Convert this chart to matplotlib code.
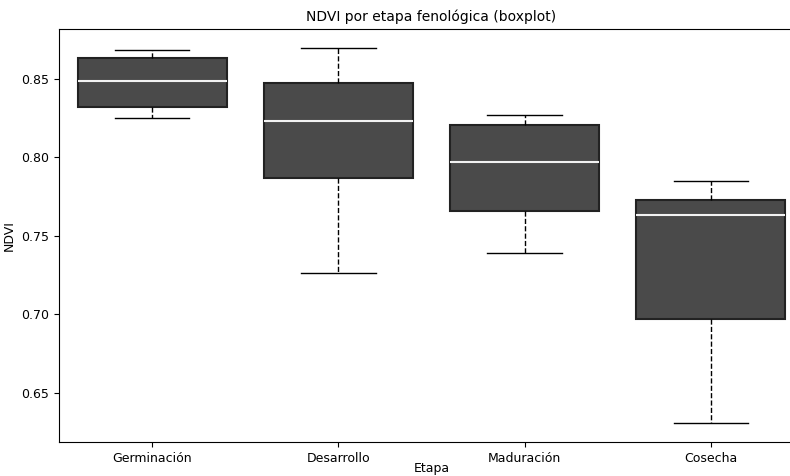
import matplotlib
matplotlib.use('Agg')
import matplotlib.pyplot as plt

etapas = ['Germinación', 'Desarrollo', 'Maduración', 'Cosecha']
whis_lo = [0.8252, 0.7261, 0.7388, 0.6308]
q1 = [0.8322, 0.7871, 0.7661, 0.6969]
mediana = [0.8487, 0.8233, 0.7973, 0.7630]
q3 = [0.8633, 0.8475, 0.8208, 0.7731]
whis_hi = [0.8684, 0.8697, 0.8271, 0.7852]

stats = []
for i, etapa in enumerate(etapas):
    stats.append({'label': etapa, 'whislo': whis_lo[i], 'q1': q1[i], 'med': mediana[i],
                  'q3': q3[i], 'whishi': whis_hi[i], 'fliers': []})

fig = plt.figure(figsize=(7.9, 4.76), dpi=100)
# el eje se extiende un poco más allá del borde derecho de la figura
ax = fig.add_axes([59 / 790, 34 / 476, 745 / 790, 413 / 476])

ax.bxp(stats, positions=range(len(etapas)), widths=0.8, patch_artist=True,
       showfliers=False,
       boxprops=dict(facecolor='#4a4a4a', edgecolor='#222222', linewidth=1.5),
       medianprops=dict(color='#f2f2f2', linewidth=1.5),
       whiskerprops=dict(color='black', linestyle='--', linewidth=1),
       capprops=dict(color='black', linewidth=1), capwidths=0.4)

ax.set_xlim(-0.5, 3.5)
ax.set_ylim(0.6187, 0.8818)
ax.set_yticks([0.65, 0.70, 0.75, 0.80, 0.85])
ax.set_xticks(range(len(etapas)))
ax.set_xticklabels(etapas)
ax.set_title('NDVI por etapa fenológica (boxplot)', fontsize=10)
ax.set_xlabel('Etapa', fontsize=9, labelpad=-2)
ax.set_ylabel('NDVI', fontsize=9)
ax.tick_params(labelsize=9)

fig.savefig('out.png', dpi=100)
